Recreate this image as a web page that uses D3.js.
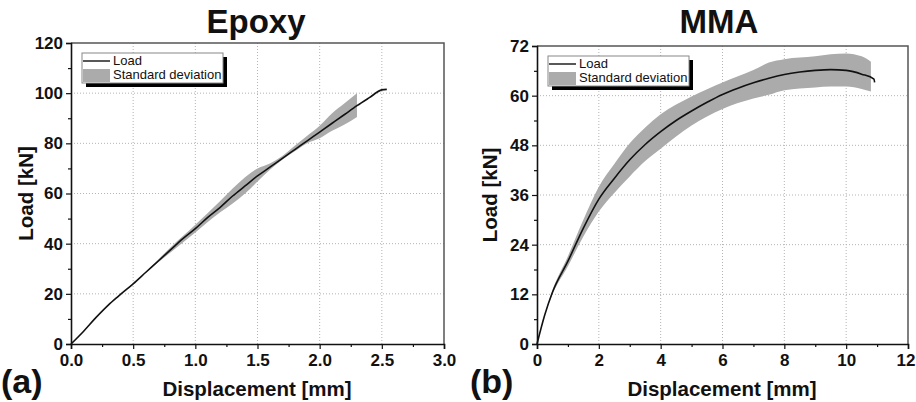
<!DOCTYPE html>
<html lang="en">
<head>
<meta charset="utf-8">
<title>Epoxy / MMA load-displacement</title>
<script src="https://cdn.jsdelivr.net/npm/d3@7"></script>
<style>
  body { margin: 0; background: #fff; }
  svg text { font-family: "Liberation Sans", Arial, sans-serif; font-weight: bold; fill: #111; }
</style>
</head>
<body>
<script>
// Epoxy (a) - mean load curve
var epoxyDisp = [0, 0.1, 0.2, 0.3, 0.38, 0.5, 0.6, 0.7, 0.8, 0.9, 1.0, 1.1, 1.2, 1.3, 1.4, 1.5, 1.6, 1.7, 1.8, 1.9, 2.0, 2.1, 2.2, 2.3, 2.4, 2.5, 2.54];
var epoxyLoad = [0, 5, 10.5, 15.5, 19, 24, 28.5, 33, 37.5, 42, 46, 50.5, 54.5, 59, 63, 67, 70.5, 74, 77.5, 81, 84.5, 88, 91.5, 95, 98.2, 101.3, 101.5];
// Epoxy standard deviation band
var epoxyBandDisp = [0.6, 0.8, 1.0, 1.2, 1.3, 1.4, 1.5, 1.6, 1.7, 1.8, 1.9, 2.0, 2.1, 2.2, 2.3];
var epoxyBandHi   = [28.6, 38.5, 47.5, 57, 62, 66.5, 70, 72, 75, 79, 83, 87, 92, 96, 100];
var epoxyBandLo   = [28.4, 36.5, 44.5, 52.5, 56, 60, 64.8, 69.5, 73.5, 76.8, 80, 82, 85, 87.5, 90.5];

// MMA (b) - mean load curve
var mmaDisp = [0, 0.25, 0.5, 1.0, 1.5, 2.0, 2.5, 3.0, 3.5, 4.0, 4.5, 5.0, 5.5, 6.0, 6.5, 7.0, 7.5, 8.0, 8.5, 9.0, 9.5, 10.0, 10.5, 10.9, 10.92];
var mmaLoad = [0, 7, 12.5, 20, 28, 35, 40, 44.5, 48.2, 51.3, 54, 56.3, 58.4, 60.3, 61.8, 63.1, 64.2, 65.1, 65.7, 66.1, 66.3, 66.1, 65.2, 64.0, 63.2];
// MMA standard deviation band
var mmaBandDisp = [0.3, 0.5, 1.0, 1.5, 2.0, 2.5, 3.0, 3.5, 4.0, 5.0, 6.0, 7.0, 7.5, 8.0, 9.0, 9.5, 10.0, 10.5, 10.8];
var mmaBandHi   = [8.5, 13, 21.2, 30, 38, 43.5, 48.5, 52.3, 55.5, 59.8, 63.2, 66.2, 68, 68.8, 69.5, 70, 70.2, 69.5, 68.2];
var mmaBandLo   = [8.1, 12, 18.8, 26, 32, 36.5, 40.5, 44.2, 47.2, 52.8, 56.8, 59.3, 60.2, 61.3, 62, 62.2, 62.2, 61.6, 61];

var epoxyXTicks = [0, 0.5, 1.0, 1.5, 2.0, 2.5, 3.0];
var epoxyYTicks = [0, 20, 40, 60, 80, 100, 120];
var mmaXTicks = [0, 2, 4, 6, 8, 10, 12];
var mmaYTicks = [0, 12, 24, 36, 48, 60, 72];

var legendLabels = ["Load", "Standard deviation"];

var W = 916, H = 402;
var svg = d3.select("body").append("svg").attr("width", W).attr("height", H);

function drawPanel(o) {
  var x = d3.scaleLinear().domain(o.xDomain).range([o.left, o.right]);
  var y = d3.scaleLinear().domain(o.yDomain).range([o.bottom, o.top]);
  var g = svg.append("g");

  // grid
  g.selectAll(".gx").data(o.xTicks.slice(1, -1)).enter().append("line")
    .attr("x1", function(d) { return x(d); }).attr("x2", function(d) { return x(d); })
    .attr("y1", o.top).attr("y2", o.bottom)
    .style("stroke", "#b4b4b4").style("stroke-width", 1).style("stroke-dasharray", "1,2");
  g.selectAll(".gy").data(o.yTicks.slice(1, -1)).enter().append("line")
    .attr("y1", function(d) { return y(d); }).attr("y2", function(d) { return y(d); })
    .attr("x1", o.left).attr("x2", o.right)
    .style("stroke", "#b4b4b4").style("stroke-width", 1).style("stroke-dasharray", "1,2");

  // std band
  var bandData = o.bandX.map(function(d, i) { return { x: d, hi: o.bandHi[i], lo: o.bandLo[i] }; });
  g.append("path").datum(bandData)
    .attr("d", d3.area().curve(d3.curveMonotoneX)
      .x(function(d) { return x(d.x); })
      .y0(function(d) { return y(d.lo); })
      .y1(function(d) { return y(d.hi); }))
    .style("fill", "#ababab");

  // load line
  var lineData = o.lineX.map(function(d, i) { return { x: d, y: o.lineY[i] }; });
  g.append("path").datum(lineData)
    .attr("d", d3.line().curve(d3.curveMonotoneX)
      .x(function(d) { return x(d.x); })
      .y(function(d) { return y(d.y); }))
    .style("fill", "none").style("stroke", "#111").style("stroke-width", 1.6);

  // frame top/right
  g.append("path")
    .attr("d", "M" + o.left + "," + o.top + "H" + o.right + "V" + o.bottom)
    .style("fill", "none").style("stroke", "#555").style("stroke-width", 1.5);

  // axes
  var xAxis = d3.axisBottom(x).tickValues(o.xTicks).tickSize(5).tickPadding(5)
    .tickFormat(o.xFormat);
  var gx = g.append("g").attr("transform", "translate(0," + o.bottom + ")").call(xAxis);
  var xMinor = [];
  for (var i = 0; i < o.xTicks.length - 1; i++) xMinor.push((o.xTicks[i] + o.xTicks[i + 1]) / 2);
  g.append("g").attr("transform", "translate(0," + o.bottom + ")")
    .call(d3.axisBottom(x).tickValues(xMinor).tickSize(3).tickFormat(""))
    .select(".domain").remove();

  var yAxis = d3.axisLeft(y).tickValues(o.yTicks).tickSize(5).tickPadding(3);
  var gy = g.append("g").attr("transform", "translate(" + o.left + ",0)").call(yAxis);
  var yMinor = [];
  for (var j = 0; j < o.yTicks.length - 1; j++) yMinor.push((o.yTicks[j] + o.yTicks[j + 1]) / 2);
  g.append("g").attr("transform", "translate(" + o.left + ",0)")
    .call(d3.axisLeft(y).tickValues(yMinor).tickSize(3).tickFormat(""))
    .select(".domain").remove();

  [gx, gy].forEach(function(a) {
    a.select(".domain").style("stroke", "#111").style("stroke-width", 1.6);
    a.selectAll(".tick text").style("font-size", "17px").style("font-family", "Liberation Sans, Arial, sans-serif")
      .style("font-weight", "bold").style("fill", "#111");
  });
  g.selectAll(".tick line").style("stroke", "#111").style("stroke-width", 1.2);

  // keep the last x label inside the page edge
  gx.selectAll(".tick text").each(function() {
    var b = this.getBBox();
    var tx = x(d3.select(this.parentNode).datum());
    var over = tx + b.x + b.width - (W - 1);
    if (over > 0) d3.select(this).attr("dx", -over);
  });

  // titles
  g.append("text").attr("x", o.titleX).attr("y", 33).attr("text-anchor", "middle")
    .style("font-size", "33px").text(o.title);
  g.append("text").attr("x", o.xTitleX).attr("y", 396).attr("text-anchor", "middle")
    .style("font-size", "20.5px").text("Displacement [mm]");
  g.append("text").attr("transform", "translate(" + o.yTitleX + "," + ((o.top + o.bottom) / 2) + ") rotate(-90)")
    .attr("text-anchor", "middle").style("font-size", "20.5px").text("Load [kN]");
  g.append("text").attr("x", o.tagX).attr("y", 393)
    .style("font-size", "34px").text(o.tag);

  // legend
  var lx = o.legX, ly = o.legY, lw = 141, lh = 30;
  g.append("rect").attr("x", lx + 4).attr("y", ly + 4).attr("width", lw).attr("height", lh)
    .style("fill", "#000");
  g.append("rect").attr("x", lx).attr("y", ly).attr("width", lw).attr("height", lh)
    .style("fill", "#fff").style("stroke", "#888").style("stroke-width", 1);
  g.append("line").attr("x1", lx + 1).attr("x2", lx + 28).attr("y1", ly + 8).attr("y2", ly + 8)
    .style("stroke", "#111").style("stroke-width", 1.4);
  g.append("rect").attr("x", lx + 1).attr("y", ly + 16).attr("width", 27).attr("height", 13)
    .style("fill", "#ababab");
  g.selectAll(".leg").data(legendLabels).enter().append("text")
    .attr("x", lx + 31).attr("y", function(d, i) { return ly + 12 + i * 14; })
    .style("font-size", "13px").style("font-weight", "normal").text(function(d) { return d; });
}

drawPanel({
  xDomain: [0, 3], yDomain: [0, 120], left: 71, right: 444, top: 43, bottom: 344,
  xTicks: epoxyXTicks, yTicks: epoxyYTicks, xFormat: d3.format(".1f"),
  lineX: epoxyDisp, lineY: epoxyLoad, bandX: epoxyBandDisp, bandHi: epoxyBandHi, bandLo: epoxyBandLo,
  title: "Epoxy", titleX: 256, xTitleX: 257, yTitleX: 33, tag: "(a)", tagX: 1,
  legX: 82, legY: 53
});

drawPanel({
  xDomain: [0, 12], yDomain: [0, 72], left: 537, right: 908, top: 46, bottom: 344,
  xTicks: mmaXTicks, yTicks: mmaYTicks, xFormat: d3.format("d"),
  lineX: mmaDisp, lineY: mmaLoad, bandX: mmaBandDisp, bandHi: mmaBandHi, bandLo: mmaBandLo,
  title: "MMA", titleX: 719, xTitleX: 722, yTitleX: 497, tag: "(b)", tagX: 470,
  legX: 548, legY: 56
});
</script>
</body>
</html>
